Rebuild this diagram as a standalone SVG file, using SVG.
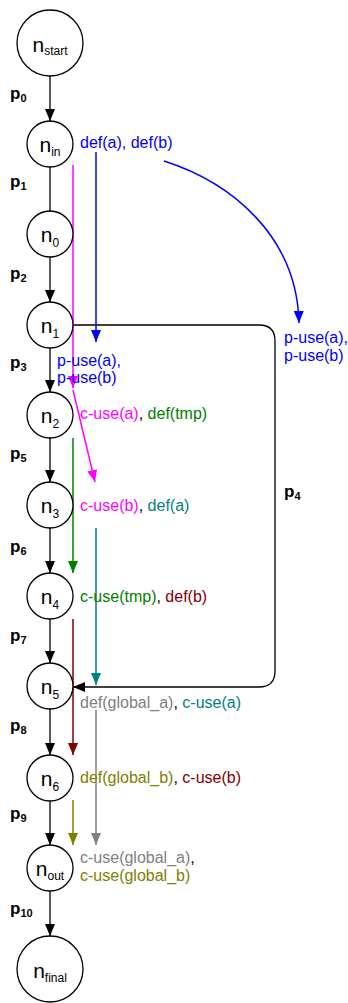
<svg xmlns="http://www.w3.org/2000/svg" width="348" height="1003" viewBox="0 0 348 1003">
<style>
.node circle{fill:#fff;stroke:#000;stroke-width:1.3}
.nl{font-family:"Liberation Sans",Arial,sans-serif;font-size:21px;fill:#000;text-anchor:middle}
.nl tspan.s{font-size:12px}
.pl{font-family:"Liberation Sans",Arial,sans-serif;font-size:17px;font-weight:bold;fill:#000}
.pl tspan{font-size:11px}
.lb{font-family:"Liberation Sans",Arial,sans-serif;font-size:16px;fill:#000}
.e{fill:none;stroke:#000;stroke-width:1.3}
.c{fill:none;stroke-width:1.5}
.blue{fill:#0000ff}.mag{fill:#ff00ff}.grn{fill:#008000}.teal{fill:#008080}.red{fill:#800000}.gry{fill:#808080}.olv{fill:#808000}
</style>
<defs>
<marker id="ak" viewBox="0 0 12 10" refX="12" refY="5" markerWidth="12" markerHeight="10" markerUnits="userSpaceOnUse" orient="auto"><path d="M0,0 L12,5 L0,10 z" fill="#000"/></marker>
<marker id="ab" viewBox="0 0 12 10" refX="12" refY="5" markerWidth="12" markerHeight="10" markerUnits="userSpaceOnUse" orient="auto"><path d="M0,0 L12,5 L0,10 z" fill="#0000ff"/></marker>
<marker id="am" viewBox="0 0 12 10" refX="12" refY="5" markerWidth="12" markerHeight="10" markerUnits="userSpaceOnUse" orient="auto"><path d="M0,0 L12,5 L0,10 z" fill="#ff00ff"/></marker>
<marker id="ag" viewBox="0 0 12 10" refX="12" refY="5" markerWidth="12" markerHeight="10" markerUnits="userSpaceOnUse" orient="auto"><path d="M0,0 L12,5 L0,10 z" fill="#008000"/></marker>
<marker id="at" viewBox="0 0 12 10" refX="12" refY="5" markerWidth="12" markerHeight="10" markerUnits="userSpaceOnUse" orient="auto"><path d="M0,0 L12,5 L0,10 z" fill="#008080"/></marker>
<marker id="ar" viewBox="0 0 12 10" refX="12" refY="5" markerWidth="12" markerHeight="10" markerUnits="userSpaceOnUse" orient="auto"><path d="M0,0 L12,5 L0,10 z" fill="#800000"/></marker>
<marker id="ay" viewBox="0 0 12 10" refX="12" refY="5" markerWidth="12" markerHeight="10" markerUnits="userSpaceOnUse" orient="auto"><path d="M0,0 L12,5 L0,10 z" fill="#808080"/></marker>
<marker id="ao" viewBox="0 0 12 10" refX="12" refY="5" markerWidth="12" markerHeight="10" markerUnits="userSpaceOnUse" orient="auto"><path d="M0,0 L12,5 L0,10 z" fill="#808000"/></marker>
</defs>
<rect width="348" height="1003" fill="#fff"/>
<g id="connectors">
<path class="e" d="M50,76 L50,121" marker-end="url(#ak)"/>
<path class="e" d="M50,167 L50,211"/>
<path class="e" d="M50,257 L50,302" marker-end="url(#ak)"/>
<path class="e" d="M50,348 L50,392" marker-end="url(#ak)"/>
<path class="e" d="M50,438 L50,482" marker-end="url(#ak)"/>
<path class="e" d="M50,528 L50,573" marker-end="url(#ak)"/>
<path class="e" d="M50,619 L50,663" marker-end="url(#ak)"/>
<path class="e" d="M50,709 L50,755" marker-end="url(#ak)"/>
<path class="e" d="M50,801 L50,845" marker-end="url(#ak)"/>
<path class="e" d="M50,891 L50,936" marker-end="url(#ak)"/>
<path class="e" d="M73,325 L259,325 Q275,325 275,341 L275,671 Q275,687 259,687 L73,687" marker-end="url(#ak)"/>
<path class="c" stroke="#0000ff" d="M96,152 L96,342" marker-end="url(#ab)"/>
<path class="c" stroke="#0000ff" d="M164,161 C230,182 297,235 299,323" marker-end="url(#ab)"/>
<path class="c" stroke="#ff00ff" d="M73,165 L73,388" marker-end="url(#am)"/>
<path class="c" stroke="#ff00ff" d="M73,390 L95,482" marker-end="url(#am)"/>
<path class="c" stroke="#008000" d="M73,438 L73,573" marker-end="url(#ag)"/>
<path class="c" stroke="#008080" d="M96,528 L96,685" marker-end="url(#at)"/>
<path class="c" stroke="#800000" d="M73,619 L73,755" marker-end="url(#ar)"/>
<path class="c" stroke="#808080" d="M96,710 L96,845" marker-end="url(#ay)"/>
<path class="c" stroke="#808000" d="M73,800 L73,845" marker-end="url(#ao)"/>
</g>
<g id="n_start" class="node"><circle cx="50" cy="43" r="33"/><text class="nl" x="50" y="52">n<tspan class="s" dy="3">start</tspan></text></g>
<g id="n_in" class="node"><circle cx="50" cy="144" r="23"/><text class="nl" x="50" y="152">n<tspan class="s" dy="4">in</tspan></text></g>
<g id="n_0" class="node"><circle cx="50" cy="234" r="23"/><text class="nl" x="50" y="242">n<tspan class="s" dy="5">0</tspan></text></g>
<g id="n_1" class="node"><circle cx="50" cy="325" r="23"/><text class="nl" x="50" y="333">n<tspan class="s" dy="5">1</tspan></text></g>
<g id="n_2" class="node"><circle cx="50" cy="415" r="23"/><text class="nl" x="50" y="423">n<tspan class="s" dy="5">2</tspan></text></g>
<g id="n_3" class="node"><circle cx="50" cy="505" r="23"/><text class="nl" x="50" y="513">n<tspan class="s" dy="5">3</tspan></text></g>
<g id="n_4" class="node"><circle cx="50" cy="596" r="23"/><text class="nl" x="50" y="604">n<tspan class="s" dy="5">4</tspan></text></g>
<g id="n_5" class="node"><circle cx="50" cy="686" r="23"/><text class="nl" x="50" y="694">n<tspan class="s" dy="5">5</tspan></text></g>
<g id="n_6" class="node"><circle cx="50" cy="778" r="23"/><text class="nl" x="50" y="786">n<tspan class="s" dy="5">6</tspan></text></g>
<g id="n_out" class="node"><circle cx="50" cy="868" r="23"/><text class="nl" x="50" y="876">n<tspan class="s" dy="4">out</tspan></text></g>
<g id="n_final" class="node"><circle cx="50" cy="969" r="33"/><text class="nl" x="50" y="978">n<tspan class="s" dy="4">final</tspan></text></g>
<g id="edge_labels">
<text class="pl" x="10" y="99">p<tspan dy="3">0</tspan></text>
<text class="pl" x="10" y="187">p<tspan dy="3">1</tspan></text>
<text class="pl" x="10" y="279">p<tspan dy="3">2</tspan></text>
<text class="pl" x="10" y="368">p<tspan dy="3">3</tspan></text>
<text class="pl" x="284" y="497">p<tspan dy="3">4</tspan></text>
<text class="pl" x="10" y="459">p<tspan dy="3">5</tspan></text>
<text class="pl" x="10" y="552">p<tspan dy="3">6</tspan></text>
<text class="pl" x="10" y="641">p<tspan dy="3">7</tspan></text>
<text class="pl" x="10" y="731">p<tspan dy="3">8</tspan></text>
<text class="pl" x="10" y="819">p<tspan dy="3">9</tspan></text>
<text class="pl" x="10" y="914">p<tspan dy="3">10</tspan></text>
</g>
<g id="annotations">
<text class="lb blue" x="80" y="148">def(a), def(b)</text>
<text class="lb blue" x="284" y="343">p-use(a),</text>
<text class="lb blue" x="284" y="361">p-use(b)</text>
<text class="lb blue" x="57" y="366">p-use(a),</text>
<text class="lb blue" x="57" y="383">p-use(b)</text>
<text class="lb" x="80" y="419"><tspan class="mag">c-use(a)</tspan>, <tspan class="grn">def(tmp)</tspan></text>
<text class="lb" x="80" y="511"><tspan class="mag">c-use(b)</tspan>, <tspan class="teal">def(a)</tspan></text>
<text class="lb" x="80" y="602"><tspan class="grn">c-use(tmp)</tspan>, <tspan class="red">def(b)</tspan></text>
<text class="lb" x="80" y="708"><tspan class="gry">def(global_a)</tspan>, <tspan class="teal">c-use(a)</tspan></text>
<text class="lb" x="80" y="783"><tspan class="olv">def(global_b)</tspan>, <tspan class="red">c-use(b)</tspan></text>
<text class="lb" x="80" y="863"><tspan class="gry">c-use(global_a)</tspan>,</text>
<text class="lb olv" x="80" y="881">c-use(global_b)</text>
</g>
</svg>
